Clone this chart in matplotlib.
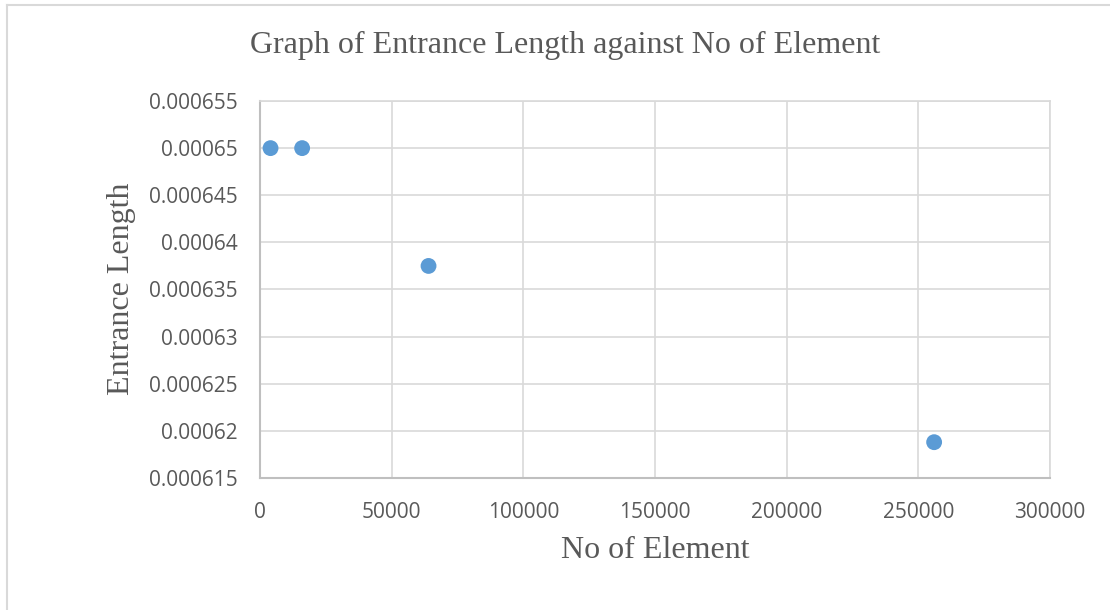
import matplotlib.pyplot as plt
from matplotlib.lines import Line2D
from matplotlib.ticker import FuncFormatter

# mesh size vs. computed entrance length
no_of_element = [4000, 16000, 64000, 256000]
entrance_length = [0.00065, 0.00065, 0.0006375, 0.0006188]

x_ticks = [0, 50000, 100000, 150000, 200000, 250000, 300000]
y_ticks = [0.000615, 0.00062, 0.000625, 0.00063, 0.000635, 0.00064,
           0.000645, 0.00065, 0.000655]

W, H = 1110, 610
fig = plt.figure(figsize=(W / 100, H / 100), dpi=100)
ax = fig.add_axes([260 / W, 1 - 478 / H, 790 / W, 377 / H])

# outer chart frame (only the top and left edges show)
fig.add_artist(Line2D([6.5 / W, 6.5 / W], [0, 1 - 5 / H],
                      color='#d9d9d9', lw=1.5, transform=fig.transFigure))
fig.add_artist(Line2D([6.5 / W, 1], [1 - 5 / H, 1 - 5 / H],
                      color='#d9d9d9', lw=1.5, transform=fig.transFigure))

ax.scatter(no_of_element, entrance_length, s=130, color='#5b9bd5',
           edgecolors='none', zorder=3, clip_on=False)

ax.set_xlim(0, 300000)
ax.set_ylim(0.000615, 0.000655)
ax.set_xticks(x_ticks)
ax.set_yticks(y_ticks)
ax.xaxis.set_major_formatter(FuncFormatter(lambda v, p: '%d' % round(v)))
ax.yaxis.set_major_formatter(FuncFormatter(lambda v, p: ('%.6f' % v).rstrip('0')))

ax.grid(True, color='#d9d9d9', lw=1.2)
ax.set_axisbelow(True)
for side in ['top', 'right']:
    ax.spines[side].set_color('#d9d9d9')
    ax.spines[side].set_linewidth(1.2)
for side in ['left', 'bottom']:
    ax.spines[side].set_color('#bfbfbf')
    ax.spines[side].set_linewidth(1.5)

ax.tick_params(length=0, labelsize=15, labelcolor='#595959')
ax.tick_params(axis='x', pad=17)
ax.tick_params(axis='y', pad=16)
for lbl in ax.get_xticklabels() + ax.get_yticklabels():
    lbl.set_family('Open Sans')

serif = dict(family='Liberation Serif', fontsize=23, color='#595959')
fig.text(565 / W, 1 - 45 / H, 'Graph of Entrance Length against No of Element',
         ha='center', va='center', **serif)
ax.set_xlabel('No of Element', va='center', **serif)
ax.set_ylabel('Entrance Length', va='center', **serif)
ax.xaxis.set_label_coords(655 / W, 1 - 550 / H, transform=fig.transFigure)
ax.yaxis.set_label_coords(122 / W, 1 - 289 / H, transform=fig.transFigure)

fig.savefig('out.png', dpi=100)
